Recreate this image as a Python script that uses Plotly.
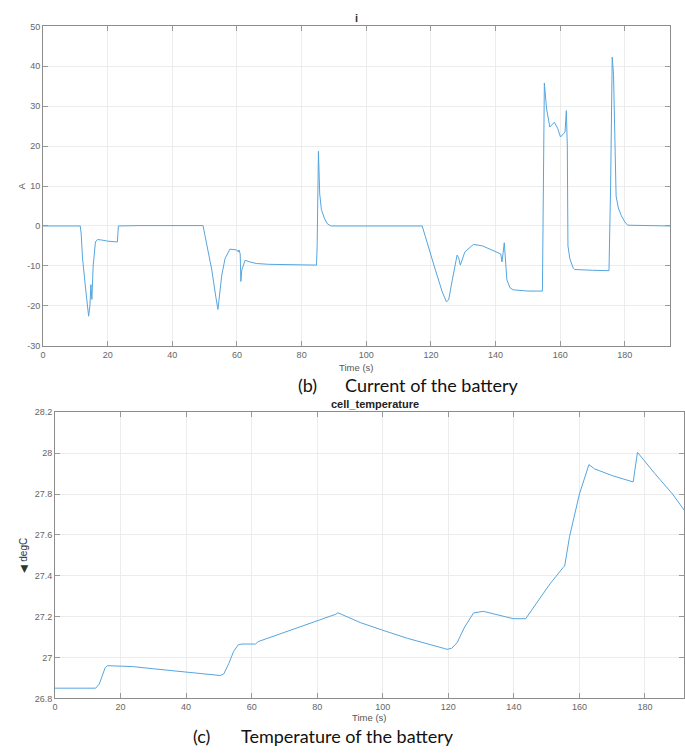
import plotly.graph_objects as go

W, H = 685, 756

# ---- Current of the battery (A) ----
t_current = [0, 11.5, 11.8, 12.2, 13.2, 14.1, 14.5, 14.8, 15.1, 15.5, 16.2, 16.8, 18, 20, 23.0, 23.3, 30, 49.5,
             50.1, 52.2, 53.5, 54.1, 55.3, 56.3, 57.8, 59.9, 60.4, 60.6, 61.0, 61.2, 61.5, 62.0, 62.5, 64, 66, 69.7,
             84.6, 84.8, 85.0, 85.2, 85.6, 86.1, 87, 88, 89.1, 117.3, 121, 123.5, 124.8, 125.5, 126.5, 127.5,
             128.1, 128.6, 129.1, 130.5, 133.2, 136, 140.4, 141.6, 142, 142.4, 142.7, 143.2, 143.5, 144.5, 145.5,
             150, 154.5, 155.1, 155.5, 155.8, 156.8, 157.5, 158.2, 159.2, 160.1, 161.1, 161.5, 161.9, 162.2,
             162.4, 163, 164, 164.5, 170, 175.1, 175.6, 176.1, 176.5, 176.8, 177.3, 178.0, 178.9, 180, 180.9, 194]
i_current = [0, 0, -2, -8, -16, -22.6, -20, -14.7, -18.4, -10, -4, -3.4, -3.5, -3.8, -4, 0, 0.1, 0.1,
             -2.4, -11, -18, -20.9, -12.3, -8.2, -5.8, -6, -6.5, -6.0, -7, -13.9, -11, -9.5, -8.6, -9.0, -9.4, -9.6,
             -9.8, -5, 5, 18.7, 8, 4.2, 2, 0.5, 0, 0, -10, -16.5, -19, -18.5, -14, -9.5,
             -7.3, -8, -9.8, -6.5, -4.6, -5, -6.5, -7, -9, -6, -4.2, -10, -13.5, -15.5, -16,
             -16.3, -16.3, 35.8, 33, 29.3, 24.8, 25.5, 26, 24.5, 22.3, 23.2, 23.5, 28.9, 20,
             -5, -8.2, -10.5, -10.9, -11.1, -11.2, 10, 42.3, 38, 24, 7.5, 4.5, 2.6, 1, 0.2, 0]

# ---- Temperature of the battery (degC) ----
t_temp = [0, 12.4, 13.5, 14.5, 15.3, 16.0, 20, 23.6, 30, 40, 50.4, 51.5, 53, 54.5, 55.9, 57, 61.2, 62, 70, 80,
          85.7, 86.3, 90.3, 93.3, 99.9, 107.5, 118.6, 119.6, 121, 122.7, 125, 127.7, 130.7, 135, 139.8, 143.6,
          147.9, 151, 155, 155.5, 157, 160, 162.9, 164.6, 170, 176.4, 177.7, 183, 188.4, 192]
temp = [26.85, 26.85, 26.87, 26.92, 26.95, 26.96, 26.958, 26.956, 26.945, 26.928, 26.912, 26.92, 26.97, 27.03,
        27.062, 27.066, 27.066, 27.078, 27.123, 27.18, 27.212, 27.219, 27.19, 27.17, 27.134, 27.094, 27.045,
        27.04, 27.045, 27.073, 27.15, 27.218, 27.226, 27.21, 27.19, 27.19, 27.287, 27.36, 27.44, 27.448, 27.593,
        27.80, 27.944, 27.923, 27.89, 27.859, 28.004, 27.9, 27.80, 27.72]

x_tickvals = [0, 20, 40, 60, 80, 100, 120, 140, 160, 180]
x_ticktext = ["0", "20", "40", "60", "80", "100", "120", "140", "160", "180"]
i_tickvals = [-30, -20, -10, 0, 10, 20, 30, 40, 50]
i_ticktext = ["-30", "-20", "-10", "0", "10", "20", "30", "40", "50"]
t_tickvals = [26.8, 27.0, 27.2, 27.4, 27.6, 27.8, 28.0, 28.2]
t_ticktext = ["26.8", "27", "27.2", "27.4", "27.6", "27.8", "28", "28.2"]

LINE = "#55a5de"
TICKFONT = dict(family="Liberation Sans, Arial, sans-serif", size=9, color="#666")


def px_x(x):
    return x / W


def px_y(y):
    return 1 - y / H


fig = go.Figure()
fig.add_trace(go.Scatter(x=t_current, y=i_current, mode="lines", line=dict(color=LINE, width=1),
                         xaxis="x", yaxis="y", showlegend=False))
fig.add_trace(go.Scatter(x=t_temp, y=temp, mode="lines", line=dict(color=LINE, width=1),
                         xaxis="x2", yaxis="y2", showlegend=False))

axis_common = dict(showline=True, linecolor="#8c8c8c", linewidth=1, mirror="ticks", ticks="inside",
                   ticklen=5, tickcolor="#9a9a9a", showgrid=True, gridcolor="#ececec", gridwidth=1,
                   zeroline=False, tickfont=TICKFONT)

fig.update_layout(
    width=W, height=H, margin=dict(l=0, r=0, t=0, b=0),
    paper_bgcolor="white", plot_bgcolor="white",
    xaxis=dict(domain=[px_x(40.3), px_x(671)], range=[0, 194], tickvals=x_tickvals, ticktext=x_ticktext,
               anchor="y", **axis_common),
    yaxis=dict(domain=[px_y(345.3), px_y(21.7)], range=[-30, 50], tickvals=i_tickvals, ticktext=i_ticktext,
               anchor="x", **axis_common),
    xaxis2=dict(domain=[px_x(52.3), 1.0], range=[0, 191.9], tickvals=x_tickvals, ticktext=x_ticktext,
                anchor="y2", **axis_common),
    yaxis2=dict(domain=[px_y(702.7), px_y(412.7)], range=[26.8, 28.2], tickvals=t_tickvals,
                ticktext=t_ticktext, anchor="x2", **axis_common),
)

ann_font = dict(family="Liberation Sans, Arial, sans-serif", size=9.5, color="#555")
cap_font = dict(family="Lato, Open Sans, sans-serif", size=18, color="#111")

annotations = [
    dict(x=px_x(356), y=px_y(13), text="<b>i</b>", font=dict(family="Liberation Sans, Arial", size=11, color="#333"),
         xanchor="center", yanchor="middle"),
    dict(x=px_x(355), y=px_y(367), text="Time (s)", font=ann_font, xanchor="center", yanchor="middle"),
    dict(x=px_x(19), y=px_y(183), text="A", font=ann_font, textangle=-90, xanchor="center", yanchor="middle"),
    dict(x=px_x(295), y=px_y(385), text="(b)", font=cap_font, xanchor="left", yanchor="middle"),
    dict(x=px_x(342), y=px_y(385), text="Current of the battery", font=cap_font, xanchor="left", yanchor="middle"),
    dict(x=px_x(374), y=px_y(404), text="<b>cell_temperature</b>",
         font=dict(family="Liberation Sans, Arial", size=11, color="#222"), xanchor="center", yanchor="middle"),
    dict(x=px_x(368), y=px_y(722), text="Time (s)", font=ann_font, xanchor="center", yanchor="middle"),
    dict(x=px_x(21), y=px_y(557), text="◀ degC", font=dict(family="Liberation Sans, Arial", size=10, color="#333"),
         textangle=-90, xanchor="center", yanchor="middle"),
    dict(x=px_x(189), y=px_y(741), text="(c)", font=cap_font, xanchor="left", yanchor="middle"),
    dict(x=px_x(237), y=px_y(741), text="Temperature of the battery", font=cap_font, xanchor="left",
         yanchor="middle"),
]
for a in annotations:
    a.update(xref="paper", yref="paper", showarrow=False)
fig.update_layout(annotations=annotations)

fig.write_html("out.html")
